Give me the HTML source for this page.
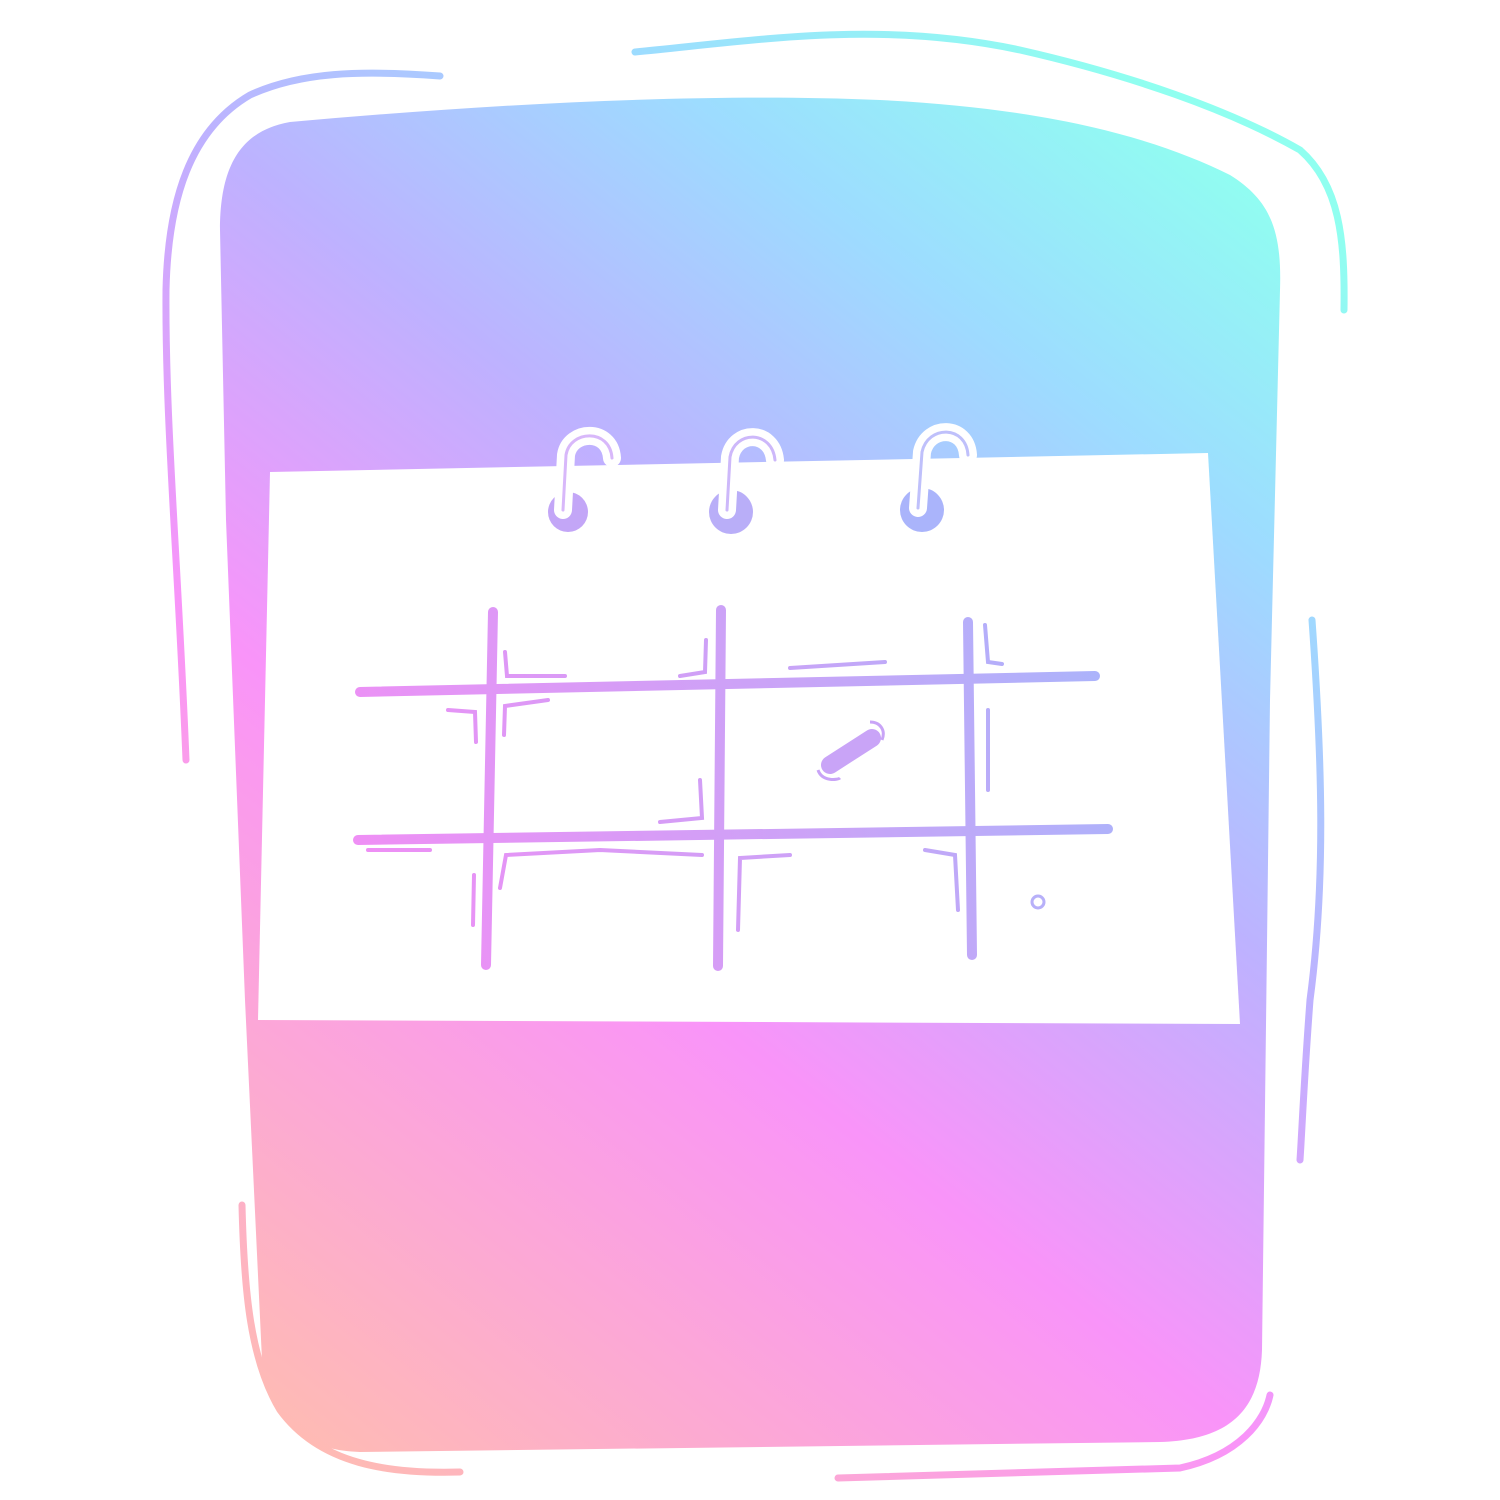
<!DOCTYPE html>
<html><head><meta charset="utf-8"><style>
html,body{margin:0;padding:0;background:#fff;width:1500px;height:1500px;overflow:hidden}
</style></head><body>
<svg width="1500" height="1500" viewBox="0 0 1500 1500">
<defs>
<linearGradient id="g" gradientUnits="userSpaceOnUse" x1="260" y1="1450" x2="1260" y2="170">
<stop offset="0" stop-color="#ffbdb0"/>
<stop offset="0.38" stop-color="#f994f9"/>
<stop offset="0.62" stop-color="#bdb2ff"/>
<stop offset="0.82" stop-color="#9ddcff"/>
<stop offset="1" stop-color="#90fff0"/>
</linearGradient>
<linearGradient id="g2" gradientUnits="userSpaceOnUse" x1="360" y1="900" x2="1110" y2="650">
<stop offset="0" stop-color="#f08ef5"/>
<stop offset="0.6" stop-color="#c9a4f7"/>
<stop offset="1" stop-color="#aab4fb"/>
</linearGradient>
</defs>
<g fill="none" stroke="url(#g)" stroke-width="7" stroke-linecap="round">
<path d="M440 76 C360 70 300 72 250 95 C190 130 168 200 166 290 C165 420 178 560 186 760"/>
<path d="M635 52 C760 40 880 20 1020 50 C1130 75 1230 110 1300 150 C1340 185 1345 240 1344 310"/>
<path d="M1312 620 C1322 760 1326 880 1310 1000 C1304 1080 1302 1130 1300 1160"/>
<path d="M242 1205 C244 1290 250 1360 280 1410 C320 1465 390 1474 460 1472"/>
<path d="M838 1478 C960 1475 1080 1472 1180 1468 C1240 1455 1265 1420 1270 1395"/>
</g>
<path fill="url(#g)" d="M290 122 C480 105 700 92 880 100 C1040 108 1150 135 1230 175 C1270 200 1282 230 1280 290 L1270 700 L1262 1350 C1260 1410 1230 1440 1160 1442 L360 1452 C300 1450 270 1420 262 1360 L245 1000 L226 520 L220 230 C220 160 245 130 290 122 Z"/>
<polygon fill="#fff" points="270,472 1208,453 1240,1024 258,1020"/>
<g fill="none" stroke-linecap="round">
<g><circle cx="568" cy="512" r="20" fill="#c3a6f7"/><path d="M563 510 L566 455 C570 430 610 428 612 458" stroke="#fff" stroke-width="18"/><path d="M563 510 L566 455 C570 430 610 428 612 458" stroke="#d8b8fa" stroke-width="3"/></g>
<g><circle cx="731" cy="512" r="22" fill="#b9aef8"/><path d="M727 510 L730 457 C735 430 772 430 775 460" stroke="#fff" stroke-width="18"/><path d="M727 510 L730 457 C735 430 772 430 775 460" stroke="#cdb8fa" stroke-width="3"/></g>
<g><circle cx="922" cy="510" r="22" fill="#aab4fb"/><path d="M918 508 L922 452 C928 425 966 425 968 455" stroke="#fff" stroke-width="18"/><path d="M918 508 L922 452 C928 425 966 425 968 455" stroke="#bfc0fb" stroke-width="3"/></g>
</g>
<g stroke="url(#g2)" stroke-width="10" stroke-linecap="round" fill="none">
<line x1="360" y1="692" x2="1095" y2="676"/>
<line x1="358" y1="840" x2="1108" y2="829"/>
<line x1="493" y1="612" x2="486" y2="965"/>
<line x1="721" y1="610" x2="718" y2="966"/>
<line x1="968" y1="622" x2="972" y2="955"/>
</g>
<g stroke="url(#g2)" stroke-width="4" stroke-linecap="round" fill="none">
<path d="M505 652 L507 676 L565 676"/><path d="M680 676 L705 672 L706 640"/>
<path d="M790 668 L885 662"/><path d="M985 625 L988 662 L1002 664"/>
<path d="M448 710 L475 712 L476 742"/><path d="M548 700 L505 706 L504 735"/>
<path d="M988 710 L988 790"/><path d="M700 780 L702 818 L660 822"/>
<path d="M368 850 L430 850"/><path d="M702 855 L600 850 L506 855 L500 888"/>
<path d="M790 855 L740 858 L738 930"/><path d="M925 850 L955 855 L958 910"/>
<path d="M474 875 L473 925"/>
</g>
<g>
<path d="M830 765 L872 738" stroke="#c9a4f7" stroke-width="18" stroke-linecap="round"/>
<path d="M818 770 C822 782 838 780 840 778 M870 722 C880 722 886 730 882 740" stroke="#c9a4f7" stroke-width="3" fill="none"/>
<circle cx="1038" cy="902" r="6" fill="none" stroke="#b7b0f9" stroke-width="3"/>
</g>
</svg>
</body></html>
